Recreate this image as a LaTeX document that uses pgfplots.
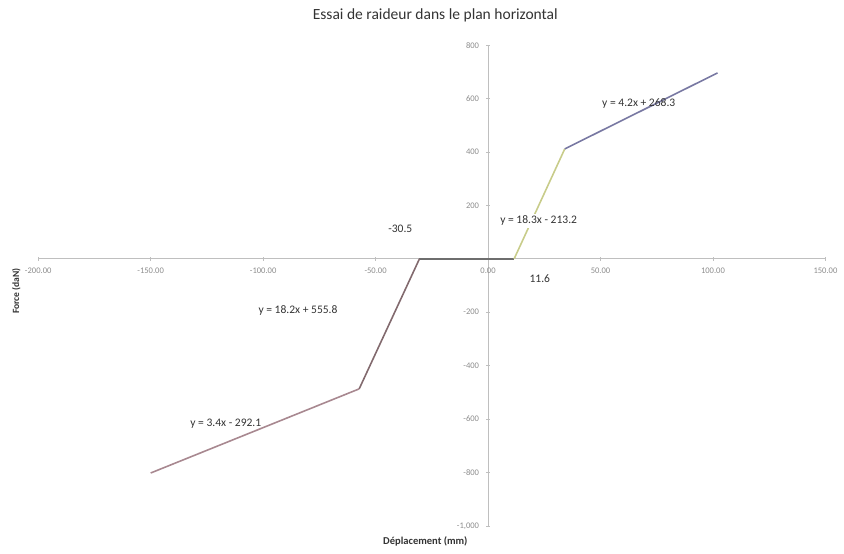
\documentclass[border=0pt]{standalone}
\usepackage{pgfplots}
\pgfplotsset{compat=1.18}
\usepackage{fontspec}
\setmainfont{Carlito}
\definecolor{flatc}{HTML}{6E6E6E}
\definecolor{lsteep}{HTML}{826A6E}
\definecolor{llow}{HTML}{A88890}
\definecolor{rsteep}{HTML}{C8CC8A}
\definecolor{rup}{HTML}{7878A2}
\definecolor{tickc}{HTML}{8C8C8C}
\begin{document}
\begin{tikzpicture}
\draw[white] (0,0) rectangle (422pt,275.5pt);
\begin{axis}[
  at={(19pt,11.5pt)}, anchor=south west,
  scale only axis,
  width=395.5pt, height=241.5pt,
  xmin=-200, xmax=150, ymin=-1000, ymax=800,
  axis x line=middle, axis y line=middle,
  axis line style={-, draw=black!25, line width=0.5pt},
  xtick={-200,-150,...,150},
  ytick={-1000,-800,...,800},
  hide obscured x ticks=false,
  major tick length=2pt,
  tick style={draw=black!25},
  tick label style={font=\fontsize{4.3}{5}\selectfont, text=tickc},
  /pgf/number format/assume math mode=true,
  yticklabel style={/pgf/number format/.cd, fixed, precision=0},
  xticklabel={\pgfmathprintnumber[fixed,fixed zerofill,precision=2]{\tick}},
  clip=false,
]
\addplot[flatc, line width=0.8pt] coordinates {(-30.5,0) (11.6,0)};
\addplot[lsteep, line width=0.8pt] coordinates {(-57.3,-487) (-30.5,0)};
\addplot[llow, line width=0.8pt] coordinates {(-150,-802) (-57.3,-487)};
\addplot[rsteep, line width=0.8pt] coordinates {(11.6,0) (34.1,411.6)};
\addplot[rup, line width=0.8pt] coordinates {(34.1,411.6) (102,696)};
\begin{scope}[every node/.style={font=\fontsize{5.8}{6}\selectfont, text=black!80}]
\node at (axis cs:67,583) {y = 4.2x + 268.3};
\node[fill=white, inner sep=1pt] at (axis cs:22.5,142) {y = 18.3x - 213.2};
\node at (axis cs:23,-75) {11.6};
\node at (axis cs:-39,112) {-30.5};
\node at (axis cs:-84.5,-194) {y = 18.2x + 555.8};
\node at (axis cs:-116.6,-617) {y = 3.4x - 292.1};
\end{scope}
\end{axis}
\node[font=\fontsize{7.8}{8}\selectfont, text=black!80] at (218.5pt,268pt) {Essai de raideur dans le plan horizontal};
\node[font=\bfseries\fontsize{5.3}{6}\selectfont, text=black!80] at (213.5pt,3.5pt) {Déplacement (mm)};
\node[font=\bfseries\fontsize{4.8}{5}\selectfont, text=black!80, rotate=90] at (8pt,129.5pt) {Force (daN)};
\end{tikzpicture}
\end{document}
